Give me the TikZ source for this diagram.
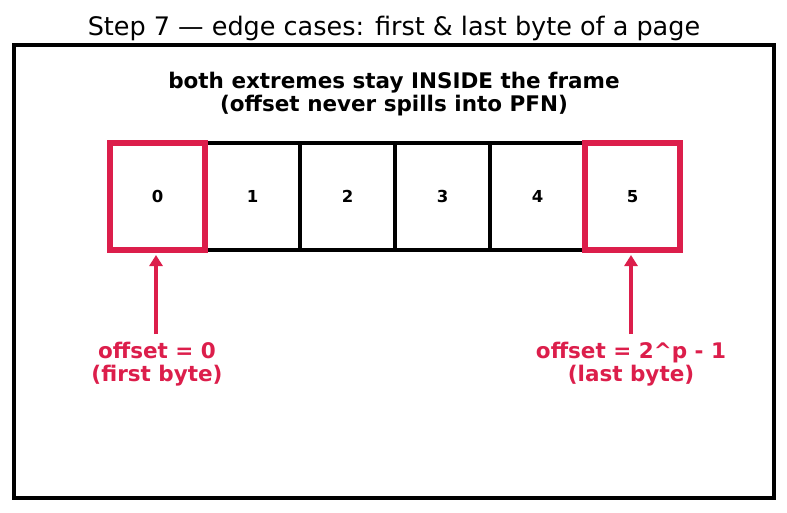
\documentclass[tikz,border=0pt]{standalone}
\usepackage{fontspec}
\setmainfont{DejaVu Sans}
\usetikzlibrary{arrows.meta}
\definecolor{hred}{RGB}{220,30,75}
\begin{document}
\begin{tikzpicture}[x=1pt,y=-1pt,
  cell/.style={draw=black,line width=4.5pt,minimum width=95pt,minimum height=107pt,inner sep=0pt,font=\bfseries\fontsize{16.5}{18}\selectfont},
  hcell/.style={draw=hred,line width=6pt},
  lab/.style={text=hred,font=\bfseries\fontsize{21.5}{23}\selectfont,align=center},
  arr/.style={draw=hred,line width=4pt,-{Triangle[length=11pt,width=13pt]}}]
\useasboundingbox (0,0) rectangle (787,512);
\node[font=\fontsize{25.5}{28}\selectfont] (title) at (394,28) {Step 7 — edge cases: first \& last byte of a page};
\node[draw=black,line width=4.5pt,minimum width=760pt,minimum height=453pt,inner sep=0pt] (frame) at (394,271.5) {};
\node[font=\bfseries\fontsize{21.5}{23}\selectfont,align=center] (sub) at (394,94.5) {both extremes stay INSIDE the frame\\(offset never spills into PFN)};
\node[cell] (c1) at (252.5,196.5) {1};
\node[cell] (c2) at (347.5,196.5) {2};
\node[cell] (c3) at (442.5,196.5) {3};
\node[cell] (c4) at (537.5,196.5) {4};
\node[cell,hcell] (c0) at (157.5,196.5) {0};
\node[cell,hcell] (c5) at (632.5,196.5) {5};
\node[lab] (l0) at (157,364.5) {offset = 0\\(first byte)};
\node[lab] (l5) at (631,364.5) {offset = 2\textasciicircum p - 1\\(last byte)};
\coordinate (a0) at (156,334);
\coordinate (a5) at (631,334);
\draw[arr] (a0) -- (156,255);
\draw[arr] (a5) -- (631,255);
\end{tikzpicture}
\end{document}
